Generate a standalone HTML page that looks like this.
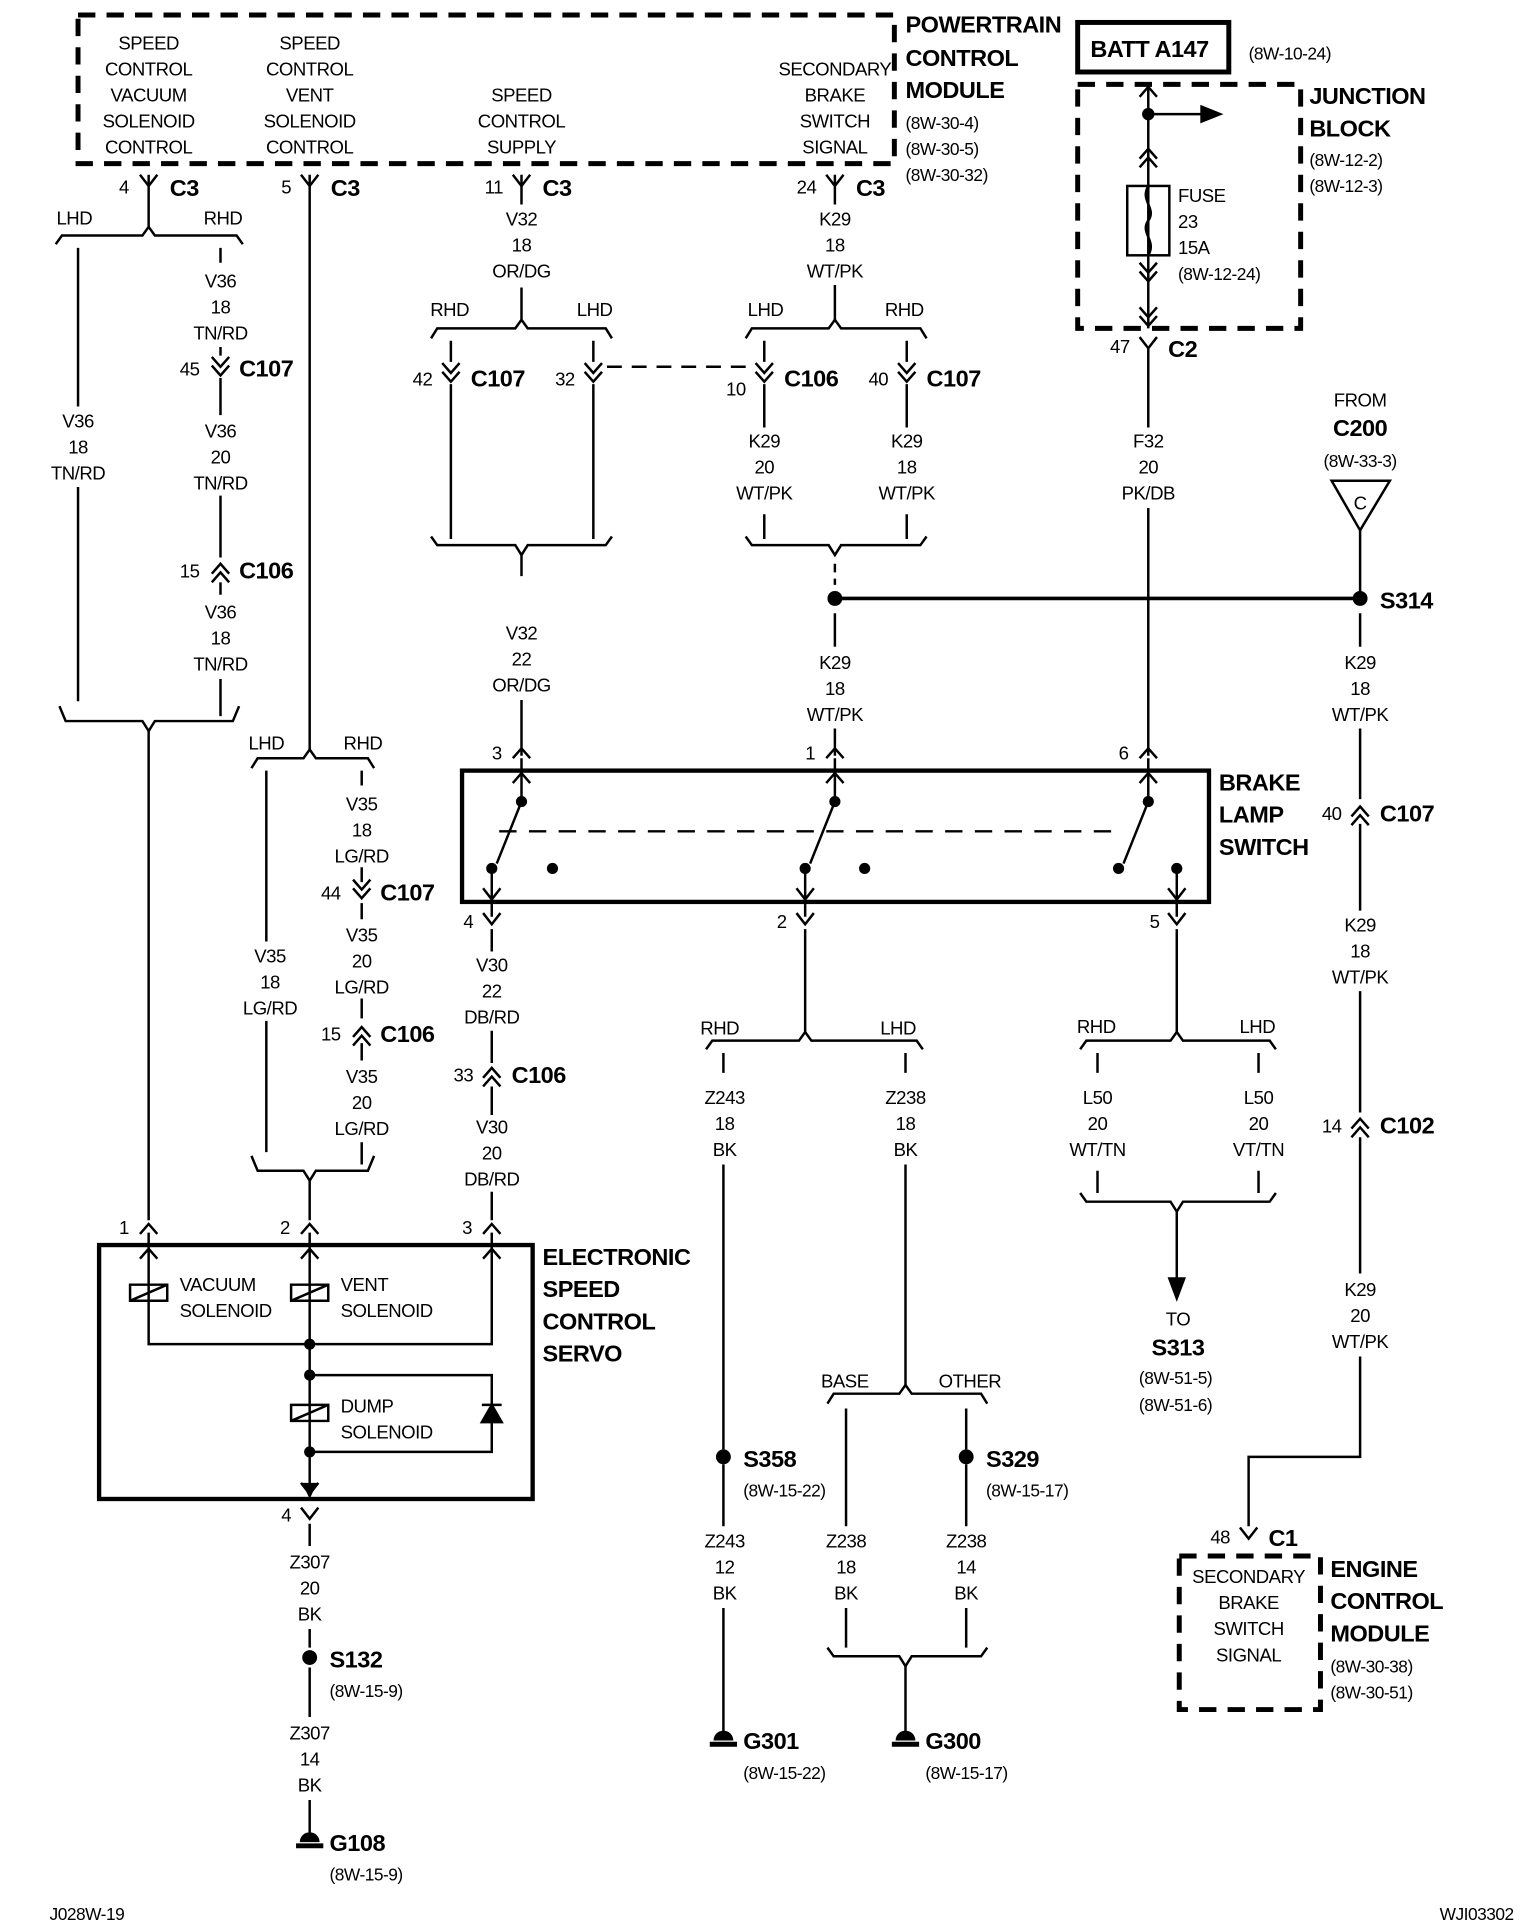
<!DOCTYPE html>
<html><head><meta charset="utf-8"><style>
html,body{margin:0;padding:0;background:#fff;}
svg{display:block}
text{font-family:"Liberation Sans Narrow","Liberation Sans",sans-serif;font-size:15px;fill:#000;text-anchor:middle;letter-spacing:-0.4px}
.b{font-weight:bold;font-size:19px}
.bl{font-weight:bold;font-size:19px;text-anchor:start}
.l{text-anchor:start}
.r{text-anchor:end}
.s{font-size:14px}
</style></head><body>
<svg width="1536" height="1924" viewBox="0 0 1240 1553" xmlns="http://www.w3.org/2000/svg">
<defs>
<path id="fy" d="M-7,-9 L0,0 L7,-9" fill="none" stroke="#000" stroke-width="2"/>
<path id="dd" d="M-7,-10 L0,-2 L7,-10 M-7,-3 L0,5 L7,-3" fill="none" stroke="#000" stroke-width="2"/>
<path id="du" d="M-7,10 L0,2 L7,10 M-7,3 L0,-5 L7,3" fill="none" stroke="#000" stroke-width="2"/>
<path id="up" d="M-7,8 L0,0 L7,8" fill="none" stroke="#000" stroke-width="2"/>
</defs>
<g fill="none" stroke="#000" stroke-width="2">
<rect x="63" y="12" width="659" height="120" stroke-width="4" stroke-dasharray="14,9"/>
<rect x="870" y="68" width="180" height="197" stroke-width="4" stroke-dasharray="14,9"/>
<rect x="870" y="18" width="122" height="40" stroke-width="4"/>
<rect x="952" y="1256" width="114" height="124" stroke-width="4" stroke-dasharray="14,9"/>
<rect x="373" y="622" width="603" height="106" stroke-width="3.5"/>
<rect x="80" y="1005" width="350" height="205" stroke-width="3.5"/>

<path d="M120,141 V183"/>
<path d="M45,197 L50,190 L115,190 L120,183 L125,190 L191,190 L196,197"/>
<path d="M63,200 V328 M63,393 V566"/>
<path d="M178,200 V212 M178,280 V287 M178,305 V335 M178,400 V450 M178,470 V480 M178,548 V578"/>
<path d="M48,570 L53,582 L115,582 L120,590 L125,582 L188,582 L193,570"/>
<path d="M120,590 V985"/>
<path d="M250,141 V605"/>
<path d="M203,620 L208,612 L245,612 L250,605 L255,612 L297,612 L302,620"/>
<path d="M215,622 V760 M215,824 V930 M292,622 V634 M292,700 V712 M292,729 V742 M292,806 V822 M292,842 V856 M292,922 V940"/>
<path d="M203,933 L208,945 L245,945 L250,953 L255,945 L297,945 L302,933"/>
<path d="M250,953 V985"/>
<path d="M421,141 V165 M421,232 V258"/>
<path d="M348,273 L353,265 L416,265 L421,258 L426,265 L489,265 L494,273"/>
<path d="M364,275 V292 M364,310 V435 M479,275 V292 M479,310 V435"/>
<path d="M490,296 H610" stroke-dasharray="12,8"/>
<path d="M348,433 L353,440 L416,440 L421,448 L426,440 L489,440 L494,433"/>
<path d="M421,448 V465 M421,565 V610"/>
<path d="M674,141 V165 M674,230 V258"/>
<path d="M602,273 L607,265 L669,265 L674,258 L679,265 L743,265 L748,273"/>
<path d="M617,275 V292 M617,310 V345 M732,275 V292 M732,310 V345 M617,415 V435 M732,415 V435"/>
<path d="M602,433 L607,440 L669,440 L674,448 L679,440 L743,440 L748,433"/>
<path d="M674,455 V472" stroke-dasharray="7,5"/>
<path d="M674,483 H1098" stroke-width="3"/>
<path d="M674,495 V522 M674,588 V610"/>
<path d="M927,70 V265 M927,92 H975"/>
<path d="M970,86 L985,92 L970,98 Z" fill="#000"/>
<rect x="910" y="150" width="34" height="56"/>
<path d="M927,150 C920,162 934,168 927,178 C920,188 934,194 927,206"/>
<path d="M927,280 V345 M927,410 V610"/>
<path d="M1075,388 L1122,388 L1098,428 Z"/>
<path d="M1098,428 V483 M1098,495 V522 M1098,588 V645 M1098,665 V735 M1098,800 V898 M1098,918 V1028 M1098,1095 V1176 H1008 V1232"/>
<path d="M421,612 V645 M674,612 V645 M927,612 V645"/>
<path d="M421,647 L401,697 M674,647 L654,697 M927,647 L907,697"/>
<path d="M403,671 H905" stroke-dasharray="14,10"/>
<path d="M397,700 V740 M650,700 V740 M950,700 V740"/>
<path d="M397,750 V768 M397,832 V858 M397,877 V900 M397,962 V985"/>
<path d="M650,750 V833"/>
<path d="M570,847 L575,840 L645,840 L650,833 L655,840 L740,840 L745,847"/>
<path d="M584,850 V866 M584,940 V1170 M584,1182 V1232 M584,1298 V1400"/>
<path d="M731,850 V866 M731,940 V1118"/>
<path d="M668,1133 L673,1125 L726,1125 L731,1118 L736,1125 L792,1125 L797,1133"/>
<path d="M683,1137 V1232 M683,1298 V1330 M780,1137 V1170 M780,1182 V1232 M780,1298 V1330"/>
<path d="M668,1330 L673,1337 L726,1337 L731,1345 L736,1337 L792,1337 L797,1330"/>
<path d="M731,1345 V1400"/>
<path d="M950,750 V833"/>
<path d="M872,847 L877,840 L945,840 L950,833 L955,840 L1025,840 L1030,847"/>
<path d="M886,850 V866 M1016,850 V866 M886,945 V963 M1016,945 V963"/>
<path d="M872,963 L877,970 L945,970 L950,978 L955,970 L1025,970 L1030,963"/>
<path d="M950,978 V1035"/>
<path d="M944,1032 L950,1048 L956,1032 Z" fill="#000"/>
<path d="M120,995 V1085 H397 V995 M250,995 V1200"/>
<path d="M250,1110 H397 V1172 H250"/>
<path d="M105,1037 h30 v13 h-30 z M105,1050 L135,1037"/>
<path d="M235,1037 h30 v13 h-30 z M235,1050 L265,1037"/>
<path d="M235,1134 h30 v13 h-30 z M235,1147 L265,1134"/>
<path d="M389,1148 L405,1148 L397,1134 Z M389,1134 H405" fill="#000"/>
<path d="M250,1230 V1248 M250,1315 V1330 M250,1346 V1386 M250,1453 V1480"/>
</g>
<g>
<use href="#fy" x="120" y="150"/><use href="#fy" x="250" y="150"/><use href="#fy" x="421" y="150"/><use href="#fy" x="674" y="150"/>
<use href="#fy" x="927" y="281"/>
<use href="#dd" x="178" y="298"/><use href="#du" x="178" y="460"/>
<use href="#dd" x="292" y="720"/><use href="#du" x="292" y="834"/>
<use href="#dd" x="364" y="303"/><use href="#dd" x="479" y="303"/><use href="#dd" x="617" y="303"/><use href="#dd" x="732" y="303"/>
<use href="#du" x="397" y="867"/>
<use href="#du" x="1098" y="656"/><use href="#du" x="1098" y="908"/>
<use href="#up" x="927" y="70"/><use href="#du" x="927" y="125"/><use href="#dd" x="927" y="222"/><use href="#dd" x="927" y="258"/>
<use href="#up" x="421" y="604"/><use href="#up" x="674" y="604"/><use href="#up" x="927" y="604"/>
<use href="#up" x="421" y="624"/><use href="#up" x="674" y="624"/><use href="#up" x="927" y="624"/>
<use href="#fy" x="397" y="726"/><use href="#fy" x="650" y="726"/><use href="#fy" x="950" y="726"/>
<use href="#fy" x="397" y="746"/><use href="#fy" x="650" y="746"/><use href="#fy" x="950" y="746"/>
<use href="#fy" x="1008" y="1242"/>
<use href="#up" x="120" y="988"/><use href="#up" x="250" y="988"/><use href="#up" x="397" y="988"/>
<use href="#up" x="120" y="1008"/><use href="#up" x="250" y="1008"/><use href="#up" x="397" y="1008"/>
<use href="#fy" x="250" y="1206"/><use href="#fy" x="250" y="1226"/>
</g>
<g fill="#000">
<circle cx="927" cy="92" r="5"/>
<circle cx="674" cy="483" r="6"/><circle cx="1098" cy="483" r="6"/>
<circle cx="421" cy="647" r="4.5"/><circle cx="674" cy="647" r="4.5"/><circle cx="927" cy="647" r="4.5"/>
<circle cx="397" cy="701" r="4.5"/><circle cx="446" cy="701" r="4.5"/><circle cx="650" cy="701" r="4.5"/><circle cx="698" cy="701" r="4.5"/><circle cx="903" cy="701" r="4.5"/><circle cx="950" cy="701" r="4.5"/>
<circle cx="250" cy="1085" r="4.5"/><circle cx="250" cy="1110" r="4.5"/><circle cx="250" cy="1172" r="4.5"/>
<circle cx="584" cy="1176" r="6"/><circle cx="780" cy="1176" r="6"/><circle cx="250" cy="1338" r="6"/>
<path d="M576,1405 a8,8 0 0 1 16,0 z M573,1406 h22 v4 h-22 z"/>
<path d="M723,1405 a8,8 0 0 1 16,0 z M720,1406 h22 v4 h-22 z"/>
<path d="M242,1487 a8,8 0 0 1 16,0 z M239,1488 h22 v4 h-22 z"/>
<path d="M244,1197 L250,1210 L256,1197 Z"/>
</g>
<text x="120" y="40">SPEED</text><text x="120" y="61">CONTROL</text><text x="120" y="82">VACUUM</text><text x="120" y="103">SOLENOID</text><text x="120" y="124">CONTROL</text>
<text x="250" y="40">SPEED</text><text x="250" y="61">CONTROL</text><text x="250" y="82">VENT</text><text x="250" y="103">SOLENOID</text><text x="250" y="124">CONTROL</text>
<text x="421" y="82">SPEED</text><text x="421" y="103">CONTROL</text><text x="421" y="124">SUPPLY</text>
<text x="674" y="61">SECONDARY</text><text x="674" y="82">BRAKE</text><text x="674" y="103">SWITCH</text><text x="674" y="124">SIGNAL</text>
<text class="bl" x="731" y="26">POWERTRAIN</text><text class="bl" x="731" y="53">CONTROL</text><text class="bl" x="731" y="79">MODULE</text>
<text class="l s" x="731" y="104">(8W-30-4)</text><text class="l s" x="731" y="125">(8W-30-5)</text><text class="l s" x="731" y="146">(8W-30-32)</text>
<text class="b" x="928" y="46">BATT A147</text><text class="l s" x="1008" y="48">(8W-10-24)</text>
<text class="bl" x="1057" y="84">JUNCTION</text><text class="bl" x="1057" y="110">BLOCK</text>
<text class="l s" x="1057" y="134">(8W-12-2)</text><text class="l s" x="1057" y="155">(8W-12-3)</text>
<text class="l" x="951" y="163">FUSE</text><text class="l" x="951" y="184">23</text><text class="l" x="951" y="205">15A</text><text class="l s" x="951" y="226">(8W-12-24)</text>
<text class="r" x="104" y="156">4</text><text class="bl" x="137" y="158">C3</text>
<text class="r" x="235" y="156">5</text><text class="bl" x="267" y="158">C3</text>
<text class="r" x="406" y="156">11</text><text class="bl" x="438" y="158">C3</text>
<text class="r" x="659" y="156">24</text><text class="bl" x="691" y="158">C3</text>
<text class="r" x="912" y="285">47</text><text class="bl" x="943" y="288">C2</text>
<text x="60" y="181">LHD</text><text x="180" y="181">RHD</text>
<text x="63" y="345">V36</text><text x="63" y="366">18</text><text x="63" y="387">TN/RD</text>
<text x="178" y="232">V36</text><text x="178" y="253">18</text><text x="178" y="274">TN/RD</text>
<text class="r" x="161" y="303">45</text><text class="bl" x="193" y="304">C107</text>
<text x="178" y="353">V36</text><text x="178" y="374">20</text><text x="178" y="395">TN/RD</text>
<text class="r" x="161" y="466">15</text><text class="bl" x="193" y="467">C106</text>
<text x="178" y="499">V36</text><text x="178" y="520">18</text><text x="178" y="541">TN/RD</text>
<text x="215" y="605">LHD</text><text x="293" y="605">RHD</text>
<text x="218" y="777">V35</text><text x="218" y="798">18</text><text x="218" y="819">LG/RD</text>
<text x="292" y="654">V35</text><text x="292" y="675">18</text><text x="292" y="696">LG/RD</text>
<text class="r" x="275" y="726">44</text><text class="bl" x="307" y="727">C107</text>
<text x="292" y="760">V35</text><text x="292" y="781">20</text><text x="292" y="802">LG/RD</text>
<text class="r" x="275" y="840">15</text><text class="bl" x="307" y="841">C106</text>
<text x="292" y="874">V35</text><text x="292" y="895">20</text><text x="292" y="916">LG/RD</text>
<text x="421" y="182">V32</text><text x="421" y="203">18</text><text x="421" y="224">OR/DG</text>
<text x="363" y="255">RHD</text><text x="480" y="255">LHD</text>
<text class="r" x="349" y="311">42</text><text class="bl" x="380" y="312">C107</text>
<text class="r" x="464" y="311">32</text>
<text class="r" x="602" y="319">10</text><text class="bl" x="633" y="312">C106</text>
<text class="r" x="717" y="311">40</text><text class="bl" x="748" y="312">C107</text>
<text x="674" y="182">K29</text><text x="674" y="203">18</text><text x="674" y="224">WT/PK</text>
<text x="618" y="255">LHD</text><text x="730" y="255">RHD</text>
<text x="617" y="361">K29</text><text x="617" y="382">20</text><text x="617" y="403">WT/PK</text>
<text x="732" y="361">K29</text><text x="732" y="382">18</text><text x="732" y="403">WT/PK</text>
<text x="927" y="361">F32</text><text x="927" y="382">20</text><text x="927" y="403">PK/DB</text>
<text x="421" y="516">V32</text><text x="421" y="537">22</text><text x="421" y="558">OR/DG</text>
<text x="674" y="540">K29</text><text x="674" y="561">18</text><text x="674" y="582">WT/PK</text>
<text class="r" x="405" y="613">3</text><text class="r" x="658" y="613">1</text><text class="r" x="911" y="613">6</text>
<text x="1098" y="328">FROM</text><text class="b" x="1098" y="352">C200</text><text x="1098" y="377" class="s">(8W-33-3)</text>
<text x="1098" y="411">C</text>
<text class="bl" x="1114" y="491">S314</text>
<text x="1098" y="540">K29</text><text x="1098" y="561">18</text><text x="1098" y="582">WT/PK</text>
<text class="r" x="1083" y="662">40</text><text class="bl" x="1114" y="663">C107</text>
<text x="1098" y="752">K29</text><text x="1098" y="773">18</text><text x="1098" y="794">WT/PK</text>
<text class="r" x="1083" y="914">14</text><text class="bl" x="1114" y="915">C102</text>
<text x="1098" y="1046">K29</text><text x="1098" y="1067">20</text><text x="1098" y="1088">WT/PK</text>
<text class="bl" x="984" y="638">BRAKE</text><text class="bl" x="984" y="664">LAMP</text><text class="bl" x="984" y="690">SWITCH</text>
<text class="r" x="382" y="749">4</text><text class="r" x="635" y="749">2</text><text class="r" x="936" y="749">5</text>
<text x="397" y="784">V30</text><text x="397" y="805">22</text><text x="397" y="826">DB/RD</text>
<text class="r" x="382" y="873">33</text><text class="bl" x="413" y="874">C106</text>
<text x="397" y="915">V30</text><text x="397" y="936">20</text><text x="397" y="957">DB/RD</text>
<text x="581" y="835">RHD</text><text x="725" y="835">LHD</text>
<text x="585" y="891">Z243</text><text x="585" y="912">18</text><text x="585" y="933">BK</text>
<text x="731" y="891">Z238</text><text x="731" y="912">18</text><text x="731" y="933">BK</text>
<text x="885" y="834">RHD</text><text x="1015" y="834">LHD</text>
<text x="886" y="891">L50</text><text x="886" y="912">20</text><text x="886" y="933">WT/TN</text>
<text x="1016" y="891">L50</text><text x="1016" y="912">20</text><text x="1016" y="933">VT/TN</text>
<text x="951" y="1070">TO</text><text class="b" x="951" y="1094">S313</text>
<text class="s" x="949" y="1117">(8W-51-5)</text><text class="s" x="949" y="1139">(8W-51-6)</text>
<text x="682" y="1120">BASE</text><text x="783" y="1120">OTHER</text>
<text class="bl" x="600" y="1184">S358</text><text class="l s" x="600" y="1208">(8W-15-22)</text>
<text class="bl" x="796" y="1184">S329</text><text class="l s" x="796" y="1208">(8W-15-17)</text>
<text x="585" y="1249">Z243</text><text x="585" y="1270">12</text><text x="585" y="1291">BK</text>
<text x="683" y="1249">Z238</text><text x="683" y="1270">18</text><text x="683" y="1291">BK</text>
<text x="780" y="1249">Z238</text><text x="780" y="1270">14</text><text x="780" y="1291">BK</text>
<text class="bl" x="600" y="1412">G301</text><text class="l s" x="600" y="1436">(8W-15-22)</text>
<text class="bl" x="747" y="1412">G300</text><text class="l s" x="747" y="1436">(8W-15-17)</text>
<text class="r" x="993" y="1246">48</text><text class="bl" x="1024" y="1248">C1</text>
<text x="1008" y="1278">SECONDARY</text><text x="1008" y="1299">BRAKE</text><text x="1008" y="1320">SWITCH</text><text x="1008" y="1341">SIGNAL</text>
<text class="bl" x="1074" y="1273">ENGINE</text><text class="bl" x="1074" y="1299">CONTROL</text><text class="bl" x="1074" y="1325">MODULE</text>
<text class="l s" x="1074" y="1350">(8W-30-38)</text><text class="l s" x="1074" y="1371">(8W-30-51)</text>
<text class="r" x="104" y="996">1</text><text class="r" x="234" y="996">2</text><text class="r" x="381" y="996">3</text>
<text class="l" x="145" y="1042">VACUUM</text><text class="l" x="145" y="1063">SOLENOID</text>
<text class="l" x="275" y="1042">VENT</text><text class="l" x="275" y="1063">SOLENOID</text>
<text class="l" x="275" y="1140">DUMP</text><text class="l" x="275" y="1161">SOLENOID</text>
<text class="bl" x="438" y="1021">ELECTRONIC</text><text class="bl" x="438" y="1047">SPEED</text><text class="bl" x="438" y="1073">CONTROL</text><text class="bl" x="438" y="1099">SERVO</text>
<text class="r" x="235" y="1228">4</text>
<text x="250" y="1266">Z307</text><text x="250" y="1287">20</text><text x="250" y="1308">BK</text>
<text class="bl" x="266" y="1346">S132</text><text class="l s" x="266" y="1370">(8W-15-9)</text>
<text x="250" y="1404">Z307</text><text x="250" y="1425">14</text><text x="250" y="1446">BK</text>
<text class="bl" x="266" y="1494">G108</text><text class="l s" x="266" y="1518">(8W-15-9)</text>
<text class="l s" x="40" y="1550">J028W-19</text><text class="r s" x="1222" y="1550">WJI03302</text>
</svg>
</body></html>
